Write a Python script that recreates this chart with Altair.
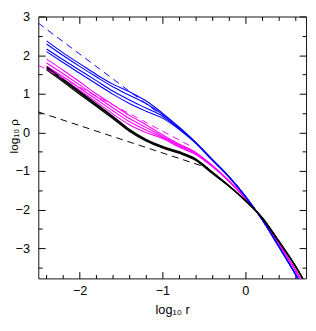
import altair as alt
import pandas as pd

# ---------------- data ----------------
X_GRID = [-2.4, -2.2, -2.0, -1.8, -1.6, -1.4, -1.2, -1.0, -0.8, -0.6, -0.4, -0.2, 0.0, 0.2, 0.4, 0.6, 0.7]

BLACK_1 = [1.70, 1.38, 1.06, 0.74, 0.42, 0.08, -0.18, -0.36, -0.50, -0.68, -1.02, -1.37, -1.75, -2.19, -2.79, -3.43, -3.79]
BLACK_2 = [1.66, 1.35, 1.03, 0.71, 0.39, 0.05, -0.20, -0.38, -0.52, -0.70, -1.04, -1.38, -1.76, -2.20, -2.80, -3.44, -3.80]
BLACK_3 = [1.62, 1.31, 0.99, 0.68, 0.36, 0.03, -0.22, -0.40, -0.54, -0.72, -1.06, -1.39, -1.77, -2.21, -2.81, -3.45, -3.81]

MAGENTA_1 = [1.90, 1.61, 1.31, 1.00, 0.72, 0.44, 0.20, -0.06, -0.30, -0.51, -0.85, -1.24, -1.69, -2.22, -2.86, -3.54, -3.91]
MAGENTA_2 = [1.80, 1.52, 1.23, 0.93, 0.64, 0.36, 0.13, -0.10, -0.33, -0.53, -0.86, -1.25, -1.70, -2.22, -2.86, -3.54, -3.91]
MAGENTA_3 = [1.72, 1.44, 1.15, 0.86, 0.56, 0.28, 0.06, -0.13, -0.35, -0.55, -0.87, -1.25, -1.70, -2.23, -2.87, -3.55, -3.92]
MAGENTA_4 = [1.66, 1.38, 1.09, 0.79, 0.48, 0.20, 0.00, -0.16, -0.38, -0.57, -0.88, -1.26, -1.71, -2.23, -2.87, -3.55, -3.92]

BLUE_1 = [2.37, 2.06, 1.78, 1.50, 1.25, 1.05, 0.82, 0.50, 0.14, -0.25, -0.69, -1.13, -1.64, -2.24, -2.93, -3.64, -4.02]
BLUE_2 = [2.29, 1.99, 1.71, 1.44, 1.18, 0.96, 0.75, 0.47, 0.12, -0.26, -0.70, -1.14, -1.65, -2.24, -2.93, -3.64, -4.02]
BLUE_3 = [2.16, 1.88, 1.61, 1.34, 1.07, 0.84, 0.63, 0.42, 0.10, -0.27, -0.71, -1.14, -1.65, -2.25, -2.94, -3.65, -4.03]
BLUE_4 = [2.09, 1.81, 1.53, 1.26, 0.99, 0.75, 0.55, 0.37, 0.08, -0.28, -0.72, -1.15, -1.66, -2.25, -2.94, -3.65, -4.03]

DASH_BLUE_X = [-2.5, -0.94]
DASH_BLUE_Y = [2.83, 0.33]
DASH_MAGENTA_X = [-2.5, -0.62]
DASH_MAGENTA_Y = [1.74, -0.40]
DASH_BLACK_X = [-2.5, -0.45]
DASH_BLACK_Y = [0.53, -0.92]

X_MAJOR = [-2, -1, 0]
X_TICKS = [-2.4, -2.2, -2.0, -1.8, -1.6, -1.4, -1.2, -1.0, -0.8, -0.6, -0.4, -0.2, 0.0, 0.2, 0.4, 0.6]
Y_MAJOR = [-3, -2, -1, 0, 1, 2, 3]
Y_TICKS = [-3.5, -3.0, -2.5, -2.0, -1.5, -1.0, -0.5, 0.0, 0.5, 1.0, 1.5, 2.0, 2.5, 3.0]
X_DOMAIN = [-2.5, 0.735]
Y_DOMAIN = [-3.78, 3.0]

# ---------------- tables ----------------
solid = {
    "black": {"k1": BLACK_1, "k2": BLACK_2, "k3": BLACK_3},
    "magenta": {"m1": MAGENTA_1, "m2": MAGENTA_2, "m3": MAGENTA_3, "m4": MAGENTA_4},
    "blue": {"b1": BLUE_1, "b2": BLUE_2, "b3": BLUE_3, "b4": BLUE_4},
}
rows = []
for grp, lines in solid.items():
    for name, ys in lines.items():
        for x, y in zip(X_GRID, ys):
            rows.append({"x": x, "y": y, "series": name, "group": grp})
df_solid = pd.DataFrame(rows)

drows = []
for grp, xs_, ys_ in [("blue", DASH_BLUE_X, DASH_BLUE_Y),
                      ("magenta", DASH_MAGENTA_X, DASH_MAGENTA_Y),
                      ("black", DASH_BLACK_X, DASH_BLACK_Y)]:
    for x, y in zip(xs_, ys_):
        drows.append({"x": x, "y": y, "series": "d_" + grp, "group": grp})
df_dash = pd.DataFrame(drows)

FONT = "Liberation Sans"
W, H = 274, 268

xs = alt.Scale(domain=X_DOMAIN, nice=False, zero=False)
ys = alt.Scale(domain=Y_DOMAIN, nice=False, zero=False)


def tick_axis(orient, values, offset, major, minor):
    return alt.Axis(
        orient=orient, values=values, offset=offset, labels=False, domain=False,
        grid=False, ticks=True, tickColor="black", tickWidth=1,
        tickSize={"condition": {"test": "abs(datum.value - round(datum.value)) < 0.001",
                                "value": major}, "value": minor},
        title="",
    )


label_x = alt.Axis(values=X_MAJOR, ticks=False, domain=False, grid=False,
                   labelFont=FONT, labelFontSize=13, labelColor="black", labelPadding=6,
                   title="log₁₀ r", titleFont=FONT, titleFontSize=13,
                   titleFontWeight="normal", titleColor="black", titlePadding=7)
label_y = alt.Axis(values=Y_MAJOR, ticks=False, domain=False, grid=False,
                   labelFont=FONT, labelFontSize=13, labelColor="black", labelPadding=9,
                   title="log₁₀ ρ", titleFont=FONT, titleFontSize=12,
                   titleFontWeight="normal", titleColor="black",
                   titleAngle=-90, titleX=-25, titleY=122, titleAlign="center",
                   titleBaseline="middle")


def solid_layer(grp, color, width, xaxis, yaxis):
    return alt.Chart(df_solid).transform_filter(
        alt.datum.group == grp
    ).mark_line(color=color, strokeWidth=width, clip=True, interpolate="monotone").encode(
        x=alt.X("x:Q", scale=xs, axis=xaxis),
        y=alt.Y("y:Q", scale=ys, axis=yaxis),
        detail="series:N",
        order="x:Q",
    )


dash_layer = alt.Chart(df_dash).mark_line(strokeWidth=1, strokeDash=[7, 5], clip=True).encode(
    x=alt.X("x:Q", scale=xs, axis=None),
    y=alt.Y("y:Q", scale=ys, axis=None),
    detail="series:N",
    color=alt.Color("group:N", scale=alt.Scale(domain=["blue", "magenta", "black"],
                                               range=["#0000ff", "#ff00ff", "#000000"]),
                    legend=None),
)

layer_magenta = solid_layer("magenta", "#ff00ff", 1.1,
                            tick_axis("top", X_TICKS, -H, 7, 4),
                            tick_axis("right", Y_TICKS, -W, 7, 4))
layer_blue = solid_layer("blue", "#0000ff", 1.1,
                         tick_axis("bottom", X_TICKS, -H, 7, 4),
                         tick_axis("left", Y_TICKS, -W, 7, 4))
layer_black = solid_layer("black", "#000000", 1.3, label_x, label_y)

chart = alt.layer(layer_magenta, layer_blue, layer_black, dash_layer).resolve_axis(
    x="independent", y="independent"
).properties(
    width=W, height=H,
    autosize=alt.AutoSizeParams(type="none"),
    padding={"left": 31, "top": 5, "right": 2, "bottom": 46},
).configure_view(stroke="#111111", strokeWidth=1)

chart.save("out.html", embed_options={"renderer": "svg", "actions": False})
